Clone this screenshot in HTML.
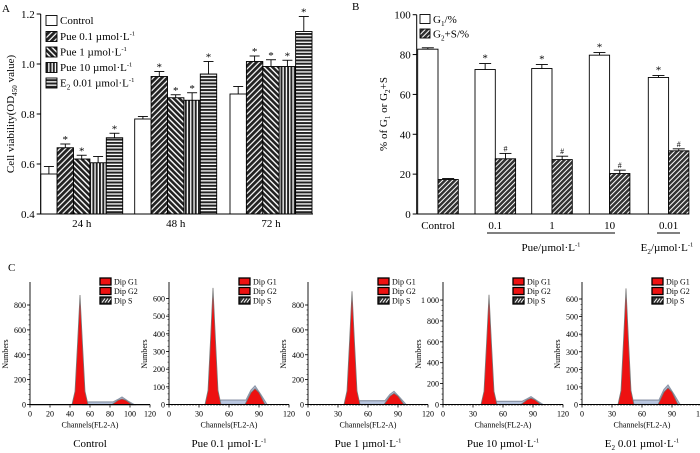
<!DOCTYPE html>
<html><head><meta charset="utf-8"><style>
html,body{margin:0;padding:0;background:#fff}
svg{display:block;font-family:"Liberation Serif",serif}
</style></head><body>
<svg id="fig" width="700" height="453" viewBox="0 0 700 453" xmlns="http://www.w3.org/2000/svg">
<defs>
<pattern id="pZig" width="4" height="4" patternUnits="userSpaceOnUse" patternTransform="rotate(45)"><rect width="4" height="4" fill="#fff"/><rect width="2.8" height="4" fill="#222"/></pattern>
<pattern id="pDiag" width="4" height="4" patternUnits="userSpaceOnUse" patternTransform="rotate(-45)"><rect width="4" height="4" fill="#fff"/><rect width="2.6" height="4" fill="#222"/></pattern>
<pattern id="pVert" width="3.3" height="4" patternUnits="userSpaceOnUse"><rect width="3.3" height="4" fill="#fff"/><rect width="2" height="4" fill="#222"/></pattern>
<pattern id="pHorz" width="4" height="3.3" patternUnits="userSpaceOnUse"><rect width="4" height="3.3" fill="#fff"/><rect width="4" height="2" fill="#222"/></pattern>
<pattern id="pB" width="3.5" height="3.5" patternUnits="userSpaceOnUse" patternTransform="rotate(45)"><rect width="3.5" height="3.5" fill="#fff"/><rect width="2.5" height="3.5" fill="#333"/></pattern>
</defs>
</svg>
<script>
// ---------- Panel A data ----------
const aGroups = ['24 h','48 h','72 h'];
const aSeries = ['Control','Pue 0.1 µmol·L','Pue 1 µmol·L','Pue 10 µmol·L','E2 0.01 µmol·L'];
const aValues = [[0.56,0.665,0.62,0.605,0.705],[0.78,0.95,0.865,0.855,0.96],[0.88,1.01,0.99,0.99,1.13]];
const aErrors = [[0.03,0.015,0.015,0.025,0.018],[0.01,0.02,0.012,0.03,0.05],[0.03,0.022,0.027,0.025,0.06]];
const aStars = [[0,1,1,0,1],[0,1,1,1,1],[0,1,1,1,1]];
const aTicks = [0.4,0.6,0.8,1.0,1.2];
// ---------- Panel B data ----------
const bCats = ['Control','0.1','1','10','0.01'];
const bG1 = [82.7,72.5,73,79.7,68.5];
const bG1Err = [0.7,3,2,1.3,1];
const bG2S = [17.3,27.7,27.3,20.3,31.7];
const bG2SErr = [0.5,2.7,1.7,1.7,1];
const bTicks = [0,20,40,60,80,100];
// ---------- Panel C data ----------
const cLabels = ['Control','Pue 0.1 µmol·L','Pue 1 µmol·L','Pue 10 µmol·L','E2 0.01 µmol·L'];
const cG1Center = [50,44,44,46,44];
const cG1Peak = [880,660,910,1050,660];
const cG2Center = [92,86,86,88,86];
const cG2Peak = [45,90,90,60,95];
const cSLevel = [20,25,30,30,25];
const cYTicks = [[0,200,400,600,800],[0,100,200,300,400,500,600],[0,200,400,600,800],[0,200,400,600,800,1000],[0,100,200,300,400,500,600]];
const cXTicks = [[0,20,40,60,80,100,120],[0,30,60,90,120],[0,30,60,90,120],[0,30,60,90,120],[0,30,60,90,120]];

const svg = document.getElementById('fig');
const NS = 'http://www.w3.org/2000/svg';
function mk(tag, attrs, parent){const e=document.createElementNS(NS,tag);for(const k in attrs)e.setAttribute(k,attrs[k]);(parent||svg).appendChild(e);return e;}
function txt(x,y,s,size,anchor,parent){const t=mk('text',{x:x,y:y,'font-size':size,'text-anchor':anchor||'middle',fill:'#000'},parent);t.textContent=s;return t;}
function sup(t,s,size){const ts=document.createElementNS(NS,'tspan');ts.setAttribute('dy',-size*0.4);ts.setAttribute('font-size',size*0.6);ts.textContent=s;t.appendChild(ts);}
function sub(t,s,size){const ts=document.createElementNS(NS,'tspan');ts.setAttribute('dy',size*0.25);ts.setAttribute('font-size',size*0.65);ts.textContent=s;t.appendChild(ts);const r=document.createElementNS(NS,'tspan');r.setAttribute('dy',-size*0.25);r.textContent='';t.appendChild(r);return r;}
function line(x1,y1,x2,y2,p,w){return mk('line',{x1:x1,y1:y1,x2:x2,y2:y2,stroke:'#000','stroke-width':w||1},p);}

// ================= Panel A =================
const gA = mk('g',{});  
const axA = 40.7, y0A = 214, endA = 313;
const yA = v => y0A - (v - 0.4) * 250;
const aGroupStart = [40.7,134.7,230];
const bwA = 16.4;
const fillsA = ['#fff','url(#pZig)','url(#pDiag)','url(#pVert)','url(#pHorz)'];
txt(2,12,'A',11,'start',gA);
aGroups.forEach((g,gi)=>{
  aValues[gi].forEach((v,si)=>{
    const x = aGroupStart[gi] + si*bwA;
    const r = mk('rect',{x:x,y:yA(v),width:bwA,height:y0A-yA(v),fill:fillsA[si],stroke:'#000','stroke-width':0.9},gA);
    
    
    const cx = x + bwA/2, yt = yA(v + aErrors[gi][si]);
    line(cx,yA(v),cx,yt,gA,0.9); line(cx-5,yt,cx+5,yt,gA,0.9);
    if(aStars[gi][si]) txt(cx,yt-1,'*',11,'middle',gA);
  });
  const gl = txt(aGroupStart[gi]+bwA*2.5,227,g,11,'middle',gA);
  
  
});
line(axA,14,axA,y0A,gA); line(axA,y0A,endA,y0A,gA);
aTicks.forEach(t=>{line(axA-4,yA(t),axA,yA(t),gA); txt(axA-6,yA(t)+4,t.toFixed(1),11,'end',gA);});
const ytA = mk('text',{x:0,y:0,'font-size':11,'text-anchor':'middle',transform:'translate(14,114) rotate(-90)'},gA);
 
ytA.textContent='Cell viability(OD'; sub(ytA,'450',11).textContent=' value)';
const legRows = [20,36,51.5,67,82.5];
aSeries.forEach((s,i)=>{
  const b = mk('rect',{x:46,y:legRows[i]-4.5,width:11,height:10,fill:fillsA[i],stroke:'#000','stroke-width':0.9},gA);
   
  let t;
  if(i===4){t=txt(60,legRows[i]+4,'E',11,'start',gA); sub(t,'2',11).textContent=' 0.01 µmol·L'; sup(t,'-1',11);}
  else {t=txt(60,legRows[i]+4,s,11,'start',gA); if(i>0) sup(t,'-1',11);}
   
});

// ================= Panel B =================
const gB = mk('g',{});  
const axB = 416.7, y0B = 214, endB = 689;
const yB = v => y0B - v*1.993;
const bGroupStart = [417.7,475,531.7,589.3,648.3];
const bwB = 20.3;
txt(352,10,'B',11,'start',gB);
bCats.forEach((c,i)=>{
  [[bG1,bG1Err,'#fff','*'],[bG2S,bG2SErr,'url(#pB)','#']].forEach((s,k)=>{
    const v = s[0][i], x = bGroupStart[i]+k*bwB;
    const r = mk('rect',{x:x,y:yB(v),width:bwB,height:y0B-yB(v),fill:s[2],stroke:'#000','stroke-width':0.9},gB);
     
    const cx=x+bwB/2, yt=yB(v+s[1][i]);
    line(cx,yB(v),cx,yt,gB,0.9); line(cx-6,yt,cx+6,yt,gB,0.9);
    if(i>0) txt(cx,yt-2,s[3],k?8:11,'middle',gB);
  });
  const cl = txt(bGroupStart[i]+bwB,229,c,11,'middle',gB);
   
});
line(axB,14.7,axB,y0B,gB); line(axB,y0B,endB,y0B,gB);
bTicks.forEach(t=>{line(axB-4,yB(t),axB,yB(t),gB); txt(axB-6,yB(t)+4,String(t),11,'end',gB);});
line(487,233,615,233,gB); line(657,233,680,233,gB);
let tp = txt(551,251,'Pue/µmol·L',11,'middle',gB); sup(tp,'-1',11);
let te = txt(667,251,'E',11,'middle',gB); sub(te,'2',11).textContent='/µmol·L'; sup(te,'-1',11);
const ytB = mk('text',{x:0,y:0,'font-size':11,'text-anchor':'middle',transform:'translate(387,114) rotate(-90)'},gB);
 
ytB.textContent='% of G'; sub(ytB,'1',11).textContent=' or G'; sub(ytB,'2',11).textContent='+S';
[['#fff',19],['url(#pB)',33.5]].forEach((l,i)=>{
  const b=mk('rect',{x:420,y:l[1]-4.5,width:10,height:9,fill:l[0],stroke:'#000','stroke-width':0.9},gB);
   
});
let l1 = txt(433,23,'G',11,'start',gB); sub(l1,'1',11).textContent='/%';
let l2 = txt(433,37.5,'G',11,'start',gB); sub(l2,'2',11).textContent='+S/%';

// ================= Panel C =================
const gC = mk('g',{});  
txt(8,271,'C',11,'start',gC);
const cAxisX = [30,169,308,443,582];
const cTopPx = [305,298.5,305,300,299];
const base = 404.5, pw = 120;
cLabels.forEach((lab,i)=>{
  const g = mk('g',{},gC);  
  const x0 = cAxisX[i];
  const yt = cYTicks[i], ymax = yt[yt.length-1];
  const ys = v => base - v*(base-cTopPx[i])/ymax;
  const xs = c => x0 + c*pw/120;
  const g1c=cG1Center[i], g2c=cG2Center[i], sL=cSLevel[i];
  const sp = mk('polygon',{points:[[xs(g1c+4),base],[xs(g1c+8),ys(sL)],[xs(g2c-9),ys(sL)],[xs(g2c-4),ys(cG2Peak[i]*0.9)],[xs(g2c),ys(cG2Peak[i]+15)],[xs(g2c+6),ys(cG2Peak[i]*0.6)],[xs(g2c+12),base]].map(p=>p.join(',')).join(' '),fill:'#b9c6e0',stroke:'#8c96a8','stroke-width':1.2},g);
   
  const g1 = mk('polygon',{points:[[xs(g1c-8),base],[xs(g1c-5),ys(cG1Peak[i]*0.12)],[xs(g1c-2.5),ys(cG1Peak[i]*0.55)],[xs(g1c),ys(cG1Peak[i])],[xs(g1c+2.5),ys(cG1Peak[i]*0.55)],[xs(g1c+5),ys(cG1Peak[i]*0.12)],[xs(g1c+8),base]].map(p=>p.join(',')).join(' '),fill:'#ee1111',stroke:'#777','stroke-width':0.8},g);
   
  const g2 = mk('polygon',{points:[[xs(g2c-10),base],[xs(g2c-4),ys(cG2Peak[i]*0.75)],[xs(g2c),ys(cG2Peak[i])],[xs(g2c+4),ys(cG2Peak[i]*0.75)],[xs(g2c+10),base]].map(p=>p.join(',')).join(' '),fill:'#ee1111',stroke:'#777','stroke-width':0.8},g);
   
  line(x0,282,x0,base,g,0.9); line(x0,base,x0+pw,base,g,0.9);
  for(let m=0;m<=ymax;m+=ymax/20) line(x0-1.5,ys(m),x0,ys(m),g,0.5);
  yt.forEach(t=>{line(x0-3,ys(t),x0,ys(t),g,0.8); txt(x0-4,ys(t)+3,t>=1000?'1 000':String(t),8,'end',g);});
  for(let c=0;c<=120;c+=(i?3:2)) line(xs(c),base,xs(c),base+1.5,g,0.5);
  cXTicks[i].forEach(t=>{line(xs(t),base,xs(t),base+3,g,0.8); txt(xs(t),base+12,String(t),8,'middle',g);});
  txt(x0+60,base+23,'Channels(FL2-A)',8,'middle',g);
  const yn = mk('text',{x:0,y:0,'font-size':8,'text-anchor':'middle',transform:'translate('+(x0-22)+',354) rotate(-90)'},g);
  yn.textContent='Numbers';
  [['Dip G1',281.5],['Dip G2',291],['Dip S',300.5]].forEach((L,k)=>{
    mk('rect',{x:x0+70,y:L[1]-3.5,width:11,height:7,fill:k<2?'#ee1111':'#333',stroke:'#000','stroke-width':1.3},g);
    if(k===2){for(let d=0;d<3;d++) mk('line',{x1:x0+72+d*3,y1:L[1]+2,x2:x0+75+d*3,y2:L[1]-2,stroke:'#fff','stroke-width':1},g);}
    txt(x0+84,L[1]+3,L[0],8,'start',g);
  });
  let bl;
  if(i===4){bl=txt(x0+60,447,'E',11,'middle',g); sub(bl,'2',11).textContent=' 0.01 µmol·L'; sup(bl,'-1',11);}
  else {bl=txt(x0+60,447,lab,11,'middle',g); if(i>0) sup(bl,'-1',11);}
   
});
</script>
</body></html>
